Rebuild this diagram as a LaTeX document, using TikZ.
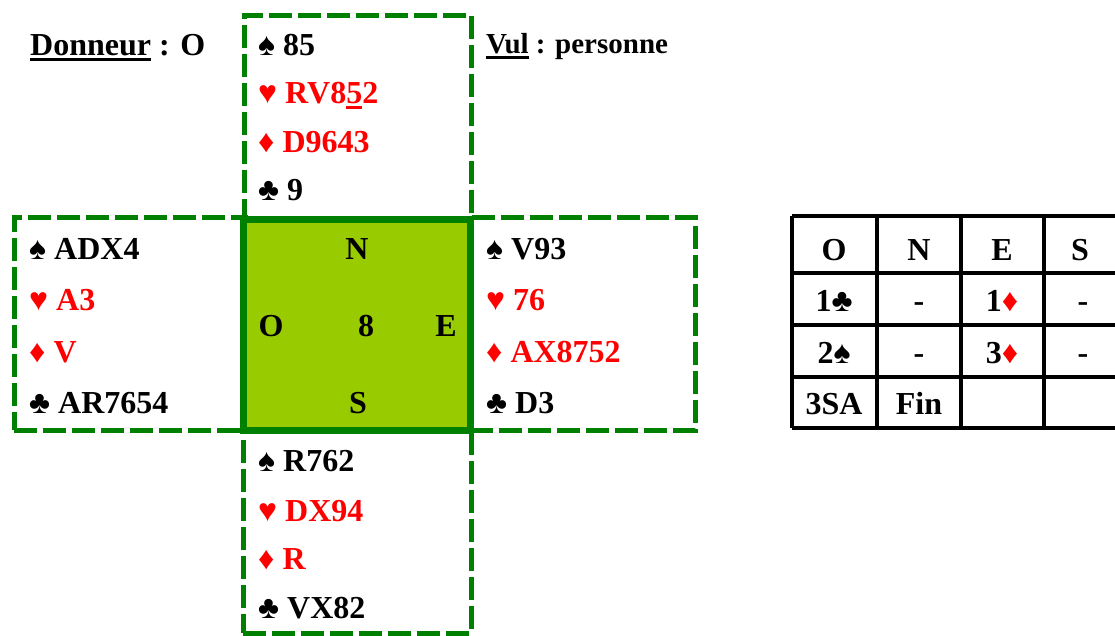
\documentclass[tikz,border=0pt]{standalone}
\usepackage{fontspec}
\setmainfont{Liberation Serif}
\definecolor{dgreen}{HTML}{008000}
\definecolor{lgreen}{HTML}{99CC00}
\definecolor{cardred}{HTML}{FF0000}
\newcommand\thickul[1]{\leavevmode\vtop{\hbox{#1}\kern2.5pt\hrule height 3.5pt}}
\tikzset{
  handbox/.style={draw=dgreen, line width=5pt, dash pattern=on 23pt off 6pt,
    inner sep=0pt, outer sep=0pt, anchor=north west},
  txt/.style={anchor=base west, inner sep=0pt, font=\fontsize{32}{38}\selectfont\bfseries},
  redtxt/.style={txt, text=cardred},
  ctxt/.style={anchor=base, inner sep=0pt, font=\fontsize{32}{38}\selectfont\bfseries},
  grid/.style={line width=3.5pt, draw=black},
}
\begin{document}
\begin{tikzpicture}[x=1pt,y=-1pt]
\useasboundingbox (0,0) rectangle (1115,635);
% dashed hand boxes
\node[handbox, minimum width=227pt, minimum height=203pt] (nbox) at (244,15) {};
\node[handbox, minimum width=231pt, minimum height=213pt] (wbox) at (14,217) {};
\node[handbox, minimum width=225pt, minimum height=213pt] (ebox) at (470,217) {};
\node[handbox, minimum width=228pt, minimum height=202pt] (sbox) at (243,431) {};
% center square
\node[draw=dgreen, fill=lgreen, line width=7pt, inner sep=0pt, outer sep=0pt,
  minimum width=227pt, minimum height=211pt, anchor=north west] (table) at (243,219) {};
\node[ctxt] (cn) at (357,259) {N};
\node[ctxt] (co) at (271,336) {O};
\node[ctxt] (c8) at (366,336) {8};
\node[ctxt] (ce) at (446,336) {E};
\node[ctxt] (cs) at (358,413) {S};
% headers
\node[txt] (donneur) at (30,55) {\thickul{Donneur} : O};
\node[txt, font=\fontsize{29}{34}\selectfont\bfseries] (vul) at (486,53) {\thickul{Vul} : personne};
% North
\node[txt] (n1) at (258,55) {♠ 85};
\node[redtxt] (n2) at (258,103) {♥ RV8\thickul{5}2};
\node[redtxt] (n3) at (258,152) {♦ D9643};
\node[txt] (n4) at (258,200) {♣ 9};
% West
\node[txt] (w1) at (29,259) {♠ ADX4};
\node[redtxt] (w2) at (29,310) {♥ A3};
\node[redtxt] (w3) at (29,362) {♦ V};
\node[txt] (w4) at (29,413) {♣ AR7654};
% East
\node[txt] (e1) at (486,259) {♠ V93};
\node[redtxt] (e2) at (486,310) {♥ 76};
\node[redtxt] (e3) at (486,362) {♦ AX8752};
\node[txt] (e4) at (486,413) {♣ D3};
% South
\node[txt] (s1) at (258,471) {♠ R762};
\node[redtxt] (s2) at (258,521) {♥ DX94};
\node[redtxt] (s3) at (258,569) {♦ R};
\node[txt] (s4) at (258,618) {♣ VX82};
% bidding table
\draw[grid] (792,216) -- (1115,216);
\draw[grid] (792,273) -- (1115,273);
\draw[grid] (792,325) -- (1115,325);
\draw[grid] (792,377) -- (1115,377);
\draw[grid] (792,428) -- (1115,428);
\draw[grid] (792,216) -- (792,428);
\draw[grid] (877,216) -- (877,428);
\draw[grid] (961,216) -- (961,428);
\draw[grid] (1044,216) -- (1044,428);
\node[ctxt] (h1) at (834,260) {O};
\node[ctxt] (h2) at (919,260) {N};
\node[ctxt] (h3) at (1002,260) {E};
\node[ctxt] (h4) at (1080,260) {S};
\node[ctxt] (b11) at (834,311) {1♣};
\node[ctxt] (b12) at (919,311) {-};
\node[ctxt] (b13) at (1002,311) {1\textcolor{cardred}{♦}};
\node[ctxt] (b14) at (1083,311) {-};
\node[ctxt] (b21) at (834,363) {2♠};
\node[ctxt] (b22) at (919,363) {-};
\node[ctxt] (b23) at (1002,363) {3\textcolor{cardred}{♦}};
\node[ctxt] (b24) at (1083,363) {-};
\node[ctxt] (b31) at (834,414) {3SA};
\node[ctxt] (b32) at (919,414) {Fin};
\end{tikzpicture}
\end{document}
